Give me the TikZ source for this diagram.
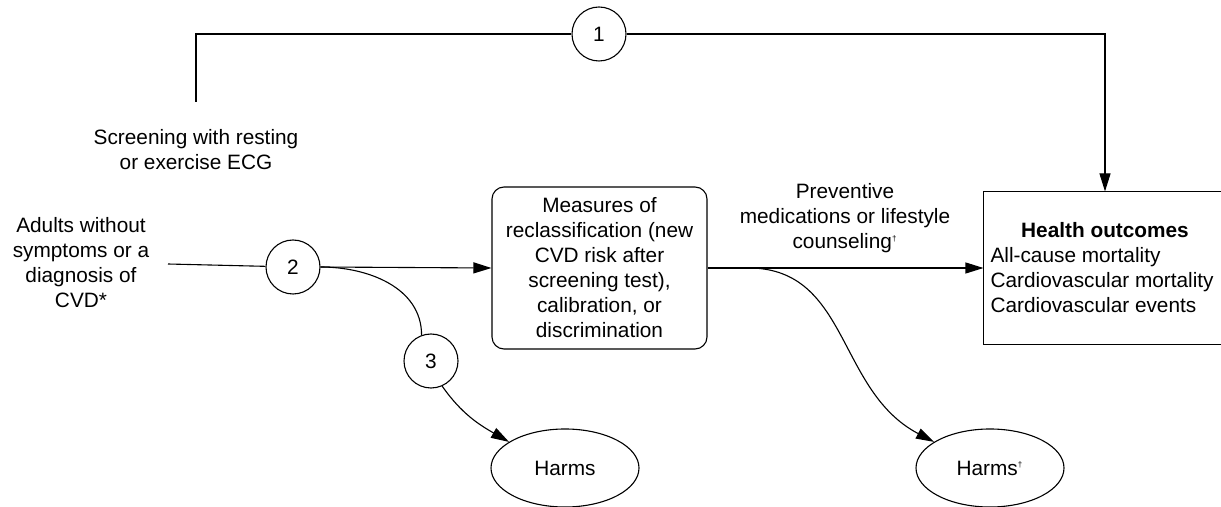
\documentclass[tikz,border=0pt]{standalone}
\usepackage{fontspec}
\setmainfont{Liberation Sans}
\usetikzlibrary{arrows.meta, shapes.geometric, positioning}
\tikzset{>={Triangle[length=9pt,width=5.5pt]}}
\newcommand{\dg}{\textsuperscript{\scalebox{.55}{\dag}}}

\begin{document}
\begin{tikzpicture}[x=0.5pt, y=-0.5pt, line width=0.55pt,
    every node/.style={font=\fontsize{10.4}{12.5}\selectfont, align=center},
    kq/.style={draw, circle, minimum size=27pt, inner sep=0pt},
    measbox/.style={draw, rounded corners=6pt, minimum width=107.5pt, minimum height=81pt, inner sep=0pt},
    harmnode/.style={draw, ellipse, minimum width=74pt, minimum height=39pt, inner sep=0pt}]
    \useasboundingbox (0,0) rectangle (1221,507);
    \clip (0,0) rectangle (1221,507);

    \node (screen) at (196,150) {Screening with resting\\or exercise ECG};
    \node (adults) at (81,263) {Adults without\\symptoms or a\\diagnosis of\\CVD*};
    \node[measbox] (measures) at (599.5,268) {Measures of\\reclassification (new\\CVD risk after\\screening test),\\calibration, or\\discrimination};
    \node (prev) at (845,218) {Preventive\\medications or lifestyle\\counseling\dg};
    \node[minimum width=140pt, minimum height=76pt, inner sep=0pt] (health) at (1124,268) {};
    \draw (health.north east) -- (health.north west) -- (health.south west) -- (health.south east);
    \node[font=\fontsize{10.4}{12.5}\selectfont\bfseries] (htitle) at (1105,230) {Health outcomes};
    \node[anchor=west, align=left, inner sep=0pt] (hlist) at (990,280) {All-cause mortality\\Cardiovascular mortality\\Cardiovascular events};
    \node[harmnode] (harm1) at (565,468) {Harms};
    \node[harmnode] (harm2) at (990,468) {Harms\dg};

    \node[kq] (q1) at (599,34) {1};
    \node[kq] (q2) at (293,267) {2};
    \node[kq] (q3) at (431,361) {3};

    \coordinate (scrtop) at (196,102);
    \coordinate (start) at (168,264);
    \coordinate (split) at (743,268);

    \draw (scrtop) |- (q1);
    \draw[->] (q1) -| (htitle |- health.north);
    \draw (start) -- (q2);
    \draw[->] (q2.east) -- (measures.west);
    \draw[->] (measures.east) -- (health.west);
    \draw (q2.east) to[out=0, in=90] (q3.110);
    \draw[->] (q3.-66) to[out=-55, in=150] (harm1.155);
    \draw[->] (split) .. controls (850,264) and (835,390) .. (harm2.155);
\end{tikzpicture}
\end{document}
